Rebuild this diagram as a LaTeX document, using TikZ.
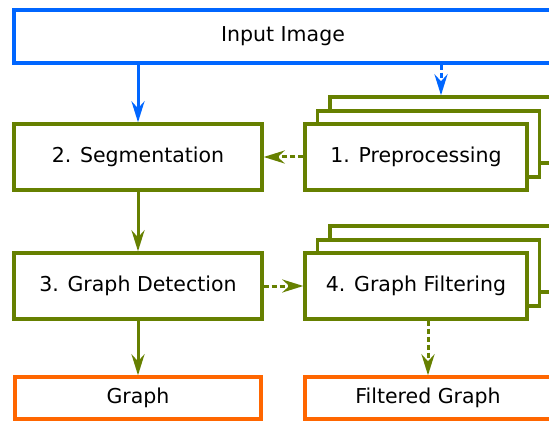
\documentclass[tikz,border=0pt]{standalone}
\usepackage{fontspec}
\setmainfont{DejaVu Sans}
\usetikzlibrary{arrows.meta}
\definecolor{blueC}{RGB}{0,102,255}
\definecolor{greenC}{RGB}{102,128,0}
\definecolor{orangeC}{RGB}{255,102,0}
\begin{document}
\begin{tikzpicture}[x=1pt,y=-1pt,
  box/.style={draw,line width=3.4pt,fill=white,inner sep=0pt,
    font=\fontsize{20.5}{24}\selectfont,text=black},
  inbox/.style={box,draw=blueC,minimum width=538pt,minimum height=53pt},
  grbox/.style={box,draw=greenC,minimum width=248pt,minimum height=66pt},
  stkbox/.style={box,draw=greenC,minimum width=222pt,minimum height=66pt},
  outbox/.style={box,draw=orangeC,minimum width=246pt,minimum height=42pt},
  tip/.style={-{Stealth[length=21pt,width=13pt,inset=7pt]}},
  conn/.style={tip,line width=3pt},
  dashconn/.style={conn,dash pattern=on 5pt off 3pt},
]
\useasboundingbox (0,0) rectangle (549,422);
\clip (0,0) rectangle (549,422);
\fill[white] (0,0) rectangle (549,422);
% input
\node[inbox] (inp) at (283,36.5) {Input Image};
% left column
\node[grbox] (seg) at (138,157) {2. Segmentation};
\node[grbox] (det) at (138,286) {3. Graph Detection};
\node[outbox] (graph) at (138,398) {Graph};
% preprocessing stack
\node[stkbox] (pre3) at (441,130) {};
\node[stkbox] (pre2) at (428.5,144) {};
\node[stkbox] (pre) at (416,157) {1. Preprocessing};
% filtering stack
\node[stkbox] (filt3) at (441,259) {};
\node[stkbox] (filt2) at (428.5,273) {};
\node[stkbox] (filt) at (416,286) {4. Graph Filtering};
\node[outbox] (fgraph) at (428,398) {Filtered Graph};
% connectors
\draw[conn,blueC] (inp.south -| seg.north) -- (seg.north);
\draw[dashconn,blueC] (inp.south -| pre3.north) -- (pre3.north);
\draw[dashconn,greenC] (pre.west) -- (seg.east);
\draw[conn,greenC] (seg.south) -- (det.north);
\draw[dashconn,greenC] (det.east) -- (filt.west);
\draw[conn,greenC] (det.south) -- (graph.north);
\draw[dashconn,greenC] (filt.south -| fgraph.north) -- (fgraph.north);
\end{tikzpicture}
\end{document}
